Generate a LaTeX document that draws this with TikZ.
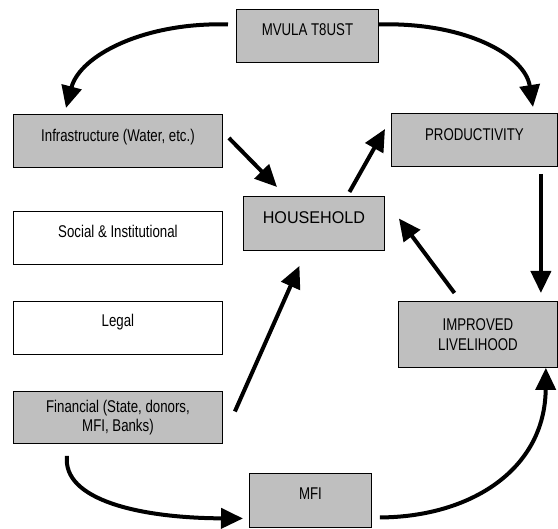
\documentclass[tikz,border=0pt]{standalone}
\usepackage{fontspec}
\setmainfont{Liberation Sans}[FakeStretch=0.78]
\newfontfamily\hhfont{Liberation Sans}[FakeStretch=0.95]
\usetikzlibrary{arrows.meta}

\begin{document}
\begin{tikzpicture}[x=1pt, y=-1pt,
    box/.style={draw, line width=0.9pt, fill=gray!50, anchor=north west, inner sep=0pt,
        align=center, font=\fontsize{17}{19.5}\selectfont},
    plainbox/.style={box, fill=white},
    lift/.style={text height=12pt, text depth=#1},
    freccia/.style={line width=4pt, -{Triangle[length=22pt, width=20pt]}}]
    \useasboundingbox (0,0) rectangle (558,529);

    % Riquadri
    \node[box, lift=13pt, minimum width=142pt, minimum height=53pt] (mvula) at (236,9) {MVULA T8UST};
    \node[box, lift=10pt, minimum width=209pt, minimum height=53pt] (infra) at (13,114) {Infrastructure (Water, etc.)};
    \node[box, lift=10pt, minimum width=166pt, minimum height=53pt] (prod) at (391,113) {PRODUCTIVITY};
    \node[box, lift=12pt, minimum width=141pt, minimum height=54pt] (hh) at (243,196) {\hhfont HOUSEHOLD};
    \node[plainbox, lift=12pt, minimum width=209pt, minimum height=53pt] (social) at (13,211) {Social \& Institutional};
    \node[plainbox, lift=14pt, minimum width=209pt, minimum height=53pt] (legal) at (13,301) {Legal};
    \node[box, minimum width=159pt, minimum height=66pt] (improved) at (398,301) {IMPROVED\\LIVELIHOOD};
    \node[box, minimum width=209pt, minimum height=52pt] (fin) at (13,391) {Financial (State, donors,\\MFI, Banks)};
    \node[box, lift=14pt, minimum width=122pt, minimum height=54pt] (mfi) at (249,473) {MFI};

    % Frecce curve in alto
    \draw[freccia] ([xshift=-8pt, yshift=11.5pt]mvula.west) .. controls (145,22) and (80,55) .. ([xshift=53pt, yshift=6pt]infra.north west);
    \draw[freccia] ([yshift=11.5pt]mvula.east) .. controls (465,22) and (525,55) .. ([xshift=142pt, yshift=6pt]prod.north west);

    % Frecce dritte
    \draw[freccia] ([xshift=6pt, yshift=3pt]infra.east) -- ([xshift=34pt, yshift=9pt]hh.north west);
    \draw[freccia] ([xshift=35.5pt, yshift=4pt]hh.north) -- ([xshift=-6pt, yshift=-16pt]prod.north west);
    \draw[freccia] ([xshift=-17pt, yshift=-7pt]prod.south east) -- ([xshift=-17pt, yshift=8pt]improved.north east);
    \draw[freccia] ([xshift=-23.5pt, yshift=8pt]improved.north) -- ([xshift=14pt, yshift=5pt]hh.east);
    \draw[freccia] ([xshift=12pt, yshift=6pt]fin.east) -- ([xshift=-14.5pt, yshift=-15pt]hh.south);

    % Frecce curve in basso
    \draw[freccia] ([xshift=54pt, yshift=-12pt]fin.south west) .. controls (62,500) and (140,518) .. ([xshift=-6pt, yshift=-18pt]mfi.west);
    \draw[freccia] ([xshift=8pt, yshift=-17pt]mfi.east) .. controls (470,517) and (545,470) .. ([xshift=-12pt]improved.south east);
\end{tikzpicture}
\end{document}
